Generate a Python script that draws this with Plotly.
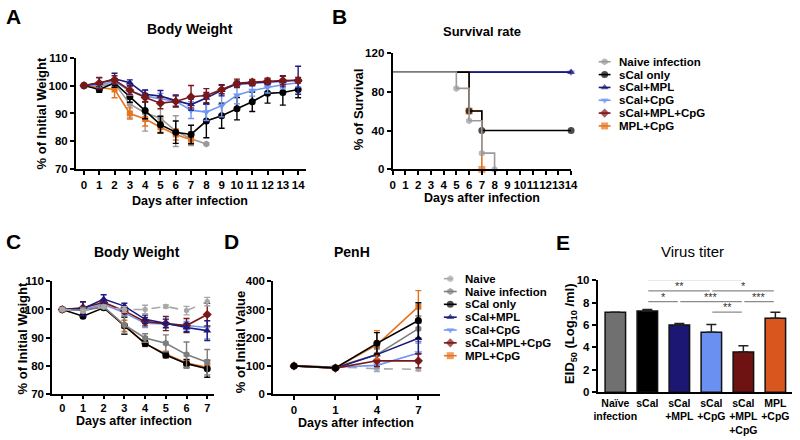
import plotly.graph_objects as go

# ---------------- DATA ----------------
groups6 = ["Naive infection", "sCal only", "sCal+MPL", "sCal+CpG", "sCal+MPL+CpG", "MPL+CpG"]
groups7 = ["Naive", "Naive infection", "sCal only", "sCal+MPL", "sCal+CpG", "sCal+MPL+CpG", "MPL+CpG"]

# Panel A: body weight (% of initial), days 0-14
days_A = list(range(15))
A_naive_inf = [100, 99.8, 100.7, 93.4, 90.2, 88.3, 83.7, 81.0, 79.1]
A_naive_inf_err = [0.5, 1, 1.5, 5, 6.5, 5, 5.5, 2.5, 0]
A_scal = [100, 98.6, 100.9, 96.0, 91.1, 86.0, 83.3, 82.5, 87.3, 89.2, 91.7, 94.2, 97.2, 97.5, 98.6]
A_scal_err = [0.5, 1, 1.5, 2, 3, 3, 4, 3.3, 6, 4.5, 4, 3.5, 3.5, 4.5, 3]
A_mpl = [100, 100.8, 102.4, 101.0, 96.9, 96.2, 94.6, 93.2, 95.5, 98.3, 100.5, 100.9, 101.3, 101.5, 101.9]
A_mpl_err = [0.5, 2, 2, 1, 1.5, 2, 2, 2, 2, 2, 1, 1, 1, 2, 5]
A_cpg = [100, 100.1, 101.5, 98.0, 96.3, 95.2, 94.4, 91.2, 90.5, 92.8, 96.5, 98.2, 99.3, 100.3, 101.0]
A_cpg_err = [0.5, 1, 1, 1.5, 2, 2, 2, 3, 3, 4, 3, 2, 2, 1.5, 1.5]
A_scal_mpl_cpg = [100, 100.9, 102.0, 98.3, 95.7, 93.7, 94.3, 96.0, 96.4, 98.6, 100.8, 101.2, 101.6, 101.8, 101.9]
A_scal_mpl_cpg_err = [0.5, 2, 1.5, 1.5, 1.5, 2, 2, 4, 2.5, 1.5, 1.5, 1, 1, 1.5, 1]
A_mpl_cpg = [100, 99.2, 98.6, 90.0, 88.0, 85.1, 82.5, 80.6]
A_mpl_cpg_err = [0.5, 1, 3, 2, 2.5, 2, 2, 1.5]

# Panel B: survival (%)
B_naive_inf_days = [0, 5, 6, 7, 8]
B_naive_inf = [100, 83.3, 50, 16.7, 0]
B_scal_days = [0, 6, 7, 14]
B_scal = [100, 60, 40, 40]
B_mpl_days = [0, 14]
B_mpl = [100, 100]
B_cpg_days = [0, 14]
B_cpg = [100, 100]
B_scal_mpl_cpg_days = [0, 14]
B_scal_mpl_cpg = [100, 100]
B_mpl_cpg_days = [0, 6, 7]
B_mpl_cpg = [100, 60, 0]

# Panel C: body weight, days 0-7
days_C = list(range(8))
C_naive = [100, 99.5, 101.0, 100.0, 100.0, 101.1, 99.6, 102.8]
C_naive_err = [0.5, 0.5, 0.5, 1, 1.5, 0.5, 1.5, 1.5]
C_naive_inf = [100, 99.7, 100.9, 94.5, 89.9, 88.0, 84.0, 81.3]
C_naive_inf_err = [0.5, 1, 0.5, 3, 1.5, 3, 4.5, 4.5]
C_scal = [100, 97.6, 100.6, 94.2, 88.0, 83.9, 80.8, 79.0]
C_scal_err = [0.5, 0.5, 0.5, 3, 1, 1, 1.5, 3]
C_mpl = [100, 100.3, 103.7, 101.2, 96.5, 95.1, 93.6, 92.5]
C_mpl_err = [0.5, 2.5, 1.5, 1, 1.5, 1.5, 1.5, 3.5]
C_cpg = [100, 100.0, 101.8, 98.8, 95.1, 94.9, 94.3, 93.6]
C_cpg_err = [0.5, 1, 1, 1, 1.5, 1.5, 1.5, 4]
C_scal_mpl_cpg = [100, 100.6, 102.5, 99.5, 95.7, 95.0, 94.3, 98.2]
C_scal_mpl_cpg_err = [0.5, 2, 1, 1, 1.5, 2.5, 2.5, 4]
C_mpl_cpg = [100, 100.0, 100.9, 94.2, 87.9, 84.2, 81.0, 79.5]
C_mpl_cpg_err = [0.5, 0.5, 0.5, 2, 1, 1, 1, 1]

# Panel D: PenH (% of initial value)
days_D = ["0", "1", "4", "7"]
D_naive = [100, 97, 90, 88]
D_naive_err = [3, 3, 10, 5]
D_naive_inf = [100, 95, 140, 232]
D_naive_inf_err = [3, 3, 20, 45]
D_scal = [100, 93, 180, 261]
D_scal_err = [3, 3, 38, 63]
D_mpl = [100, 92, 140, 198]
D_mpl_err = [3, 3, 25, 55]
D_cpg = [100, 95, 102, 146]
D_cpg_err = [3, 3, 10, 35]
D_scal_mpl_cpg = [100, 92, 118, 118]
D_scal_mpl_cpg_err = [3, 3, 20, 25]
D_mpl_cpg = [100, 93, 175, 310]
D_mpl_cpg_err = [3, 3, 50, 57]

# Panel E: virus titer
E_labels = ["Naïve<br>infection", "sCal", "sCal<br>+MPL", "sCal<br>+CpG", "sCal<br>+MPL<br>+CpG", "MPL<br>+CpG"]
E_values = [7.15, 7.25, 6.0, 5.35, 3.6, 6.6]
E_err = [0.0, 0.15, 0.15, 0.7, 0.55, 0.55]
sig_left = [1, 1, 3, 1, 2, 4, 3]
sig_right = [4, 3, 5, 2, 4, 5, 4]
sig_text = ["***", "**", "*", "*", "***", "***", "**"]

# ---------------- STYLE ----------------
W, H = 800, 440
FONT = "Liberation Sans, Arial, sans-serif"
GRAY = "#9a9a9a"
GRAY_C = "#7d7d7d"
GRAY_L = "#a8a8a8"
BLACK = "#000000"
NAVY = "#1c1a7e"
LBLUE = "#6f97f3"
DRED = "#7a1717"
ORANGE = "#e6731f"
BAR_COLORS = ["#707070", "#000000", "#1c1773", "#6a90f2", "#6e1212", "#d9561f"]
sig_levels = [10.05, 9.05, 9.05, 8.1, 8.1, 8.1, 7.15]

def px(x):
    return x / W

def py(y):
    return 1 - y / H

fig = go.Figure()

def line_trace(x, y, err, color, symbol, xa, ya, size=7, dash="solid", width=1.6):
    fig.add_trace(go.Scatter(
        x=x, y=y, mode="lines+markers", xaxis=xa, yaxis=ya, showlegend=False,
        line=dict(color=color, width=width, dash=dash),
        marker=dict(color=color, symbol=symbol, size=size, line=dict(width=0)),
        error_y=dict(type="data", array=err, color=color, thickness=1.4, width=3),
        cliponaxis=False,
    ))

# Panel A
line_trace(days_A[:len(A_naive_inf)], A_naive_inf, A_naive_inf_err, GRAY, "hexagon", "x", "y")
line_trace(days_A[:len(A_mpl_cpg)], A_mpl_cpg, A_mpl_cpg_err, ORANGE, "square", "x", "y", size=6)
line_trace(days_A, A_scal, A_scal_err, BLACK, "circle", "x", "y")
line_trace(days_A, A_cpg, A_cpg_err, LBLUE, "triangle-down", "x", "y")
line_trace(days_A, A_mpl, A_mpl_err, NAVY, "triangle-up", "x", "y")
line_trace(days_A, A_scal_mpl_cpg, A_scal_mpl_cpg_err, DRED, "diamond", "x", "y")

# Panel B (step survival curves)
def surv_trace(x, y, color, symbol, msize=7):
    sizes = [0] + [msize] * (len(x) - 1)
    fig.add_trace(go.Scatter(
        x=x, y=y, mode="lines+markers", xaxis="x2", yaxis="y2", showlegend=False,
        line=dict(color=color, width=1.6, shape="hv"),
        marker=dict(color=color, symbol=symbol, size=sizes, line=dict(width=0)),
        cliponaxis=False,
    ))

surv_trace(B_scal_mpl_cpg_days, B_scal_mpl_cpg, DRED, "diamond", msize=5)
surv_trace(B_cpg_days, B_cpg, LBLUE, "triangle-down")
surv_trace(B_mpl_days, B_mpl, NAVY, "triangle-up")
surv_trace(B_mpl_cpg_days, B_mpl_cpg, ORANGE, "square")
surv_trace(B_scal_days, B_scal, BLACK, "circle")
surv_trace(B_naive_inf_days, B_naive_inf, GRAY, "hexagon")

# Panel C
line_trace(days_C, C_mpl_cpg, C_mpl_cpg_err, ORANGE, "square", "x3", "y3", size=6)
line_trace(days_C, C_scal, C_scal_err, BLACK, "circle", "x3", "y3")
line_trace(days_C, C_cpg, C_cpg_err, LBLUE, "triangle-down", "x3", "y3")
line_trace(days_C, C_scal_mpl_cpg, C_scal_mpl_cpg_err, DRED, "diamond", "x3", "y3")
line_trace(days_C, C_mpl, C_mpl_err, NAVY, "triangle-up", "x3", "y3")
line_trace(days_C, C_naive_inf, C_naive_inf_err, GRAY_C, "hexagon", "x3", "y3")
line_trace(days_C, C_naive, C_naive_err, GRAY_L, "hexagon", "x3", "y3", size=6, dash="dash")

# Panel D
xD = list(range(len(days_D)))
line_trace(xD, D_naive, D_naive_err, GRAY_L, "hexagon", "x4", "y4", size=6, dash="dash")
line_trace(xD, D_naive_inf, D_naive_inf_err, GRAY_C, "hexagon", "x4", "y4")
line_trace(xD, D_cpg, D_cpg_err, LBLUE, "triangle-down", "x4", "y4")
line_trace(xD, D_mpl, D_mpl_err, NAVY, "triangle-up", "x4", "y4")
line_trace(xD, D_scal_mpl_cpg, D_scal_mpl_cpg_err, DRED, "diamond", "x4", "y4")
line_trace(xD, D_mpl_cpg, D_mpl_cpg_err, ORANGE, "square", "x4", "y4", size=6)
line_trace(xD, D_scal, D_scal_err, BLACK, "circle", "x4", "y4")

# Panel E
xE = list(range(len(E_labels)))
fig.add_trace(go.Bar(
    x=xE, y=E_values, xaxis="x5", yaxis="y5", width=0.64, showlegend=False,
    marker=dict(color=BAR_COLORS, line=dict(color="#111111", width=1.5)),
    error_y=dict(type="data", array=E_err, arrayminus=[0] * len(E_err), symmetric=False,
                 color="#222222", thickness=1.5, width=5),
))

shapes = []
annotations = []
for l, r, t, lev in zip(sig_left, sig_right, sig_text, sig_levels):
    shapes.append(dict(type="line", xref="x5", yref="y5", x0=l + 0.03, x1=r - 0.05,
                       y0=lev, y1=lev, line=dict(color="#8a8a8a", width=1.2)))
    annotations.append(dict(xref="x5", yref="y5", x=(l + r) / 2, y=lev, text=t,
                            showarrow=False, yanchor="bottom", yshift=-3,
                            font=dict(family=FONT, size=11, color="#333333")))

# Manual legends (on a hidden axis over the legend areas)
def legend_block(names, colors, symbols, dashes, x_line0, x_line1, x_text, y0, dy):
    for i, (n, c, s, d) in enumerate(zip(names, colors, symbols, dashes)):
        yy = y0 + i * dy
        xm = (x_line0 + x_line1) / 2
        fig.add_trace(go.Scatter(
            x=[x_line0, xm, x_line1], y=[yy, yy, yy], mode="lines+markers",
            xaxis="x6", yaxis="y6", showlegend=False,
            line=dict(color=c, width=1.6, dash=d),
            marker=dict(color=c, symbol=s, size=[0, 7, 0], line=dict(width=0)),
            cliponaxis=False,
        ))
        annotations.append(dict(xref="x6", yref="y6", x=x_text, y=yy, text=n,
                                showarrow=False, xanchor="left", yanchor="middle",
                                height=12, valign="middle",
                                font=dict(family=FONT, size=11.5, color="black", weight="bold")))

legend_block(groups6, [GRAY, BLACK, NAVY, LBLUE, DRED, ORANGE],
             ["hexagon", "circle", "triangle-up", "triangle-down", "diamond", "square"],
             ["solid"] * 6, 603, 615, 622, 57.3, 13.2)
legend_block(groups7, [GRAY_L, GRAY_C, BLACK, NAVY, LBLUE, DRED, ORANGE],
             ["hexagon", "hexagon", "circle", "triangle-up", "triangle-down", "diamond", "square"],
             ["dash"] + ["solid"] * 6, 446, 459, 465, 280.3, 13.2)

# Titles and labels as annotations (paper coords in px)
def txt(x, y, s, size=13, bold=True, angle=0, xanchor="center"):
    annotations.append(dict(xref="paper", yref="paper", x=px(x), y=py(y), text=s,
                            showarrow=False, xanchor=xanchor, yanchor="middle", textangle=angle,
                            font=dict(family=FONT, size=size, color="black",
                                      weight="bold" if bold else "normal")))

txt(10, 11, "A", 21)
txt(340, 11, "B", 21)
txt(10, 242, "C", 21)
txt(231, 242, "D", 21)
txt(567, 243, "E", 21)

txt(189, 24, "Body Weight", 14)
txt(485, 26, "Survival rate", 13)
txt(135, 253, "Body Weight", 14)
txt(353, 253, "PenH", 14)
txt(698, 252, "Virus titer", 15, bold=False)

txt(189, 200, "Days after infection", 12.5)
txt(485, 197, "Days after infection", 12.5)
txt(132, 427, "Days after infection", 12.5)
txt(357, 429, "Days after infection", 12.5)

txt(38, 110, "% of Initial Weight", 13, angle=-90)
txt(359, 106, "% of Survival", 13, angle=-90)
txt(19, 342, "% of Initial Weight", 13, angle=-90)
txt(240, 345, "% of Initial Value", 13, angle=-90)
txt(575, 337, "EID<sub>50</sub> (Log<sub>10</sub> /ml)", 13, angle=-90)

def ax(size=11.5, **kw):
    base = dict(showline=True, linecolor="black", linewidth=2, ticks="outside",
                ticklen=4, tickwidth=2, tickcolor="black", showgrid=False, zeroline=False,
                tickfont=dict(family=FONT, size=size, color="black", weight="bold"),
                fixedrange=True, tickangle=0)
    base.update(kw)
    return base

fig.update_layout(
    width=W, height=H, margin=dict(l=0, r=0, t=0, b=0),
    paper_bgcolor="white", plot_bgcolor="rgba(0,0,0,0)",
    showlegend=False,
    xaxis=ax(domain=[px(73), px(306)], range=[-0.52, 14.5], tickvals=days_A, anchor="y"),
    yaxis=ax(domain=[py(168), py(53)], range=[70, 110], tickvals=[70, 80, 90, 100, 110], anchor="x"),
    xaxis2=ax(domain=[px(394), px(575)], range=[0, 14], tickvals=list(range(15)), anchor="y2"),
    yaxis2=ax(domain=[py(168), py(48)], range=[0, 120], tickvals=[0, 40, 80, 120], anchor="x2"),
    xaxis3=ax(size=11, ticklen=3, domain=[px(49), px(213)], range=[-0.48, 7.33], tickvals=days_C, anchor="y3"),
    yaxis3=ax(domain=[py(399), py(283)], range=[70, 110], tickvals=[70, 80, 90, 100, 110], anchor="x3"),
    xaxis4=ax(domain=[px(273), px(442)], range=[-0.5, 3.52], tickvals=xD, ticktext=days_D, anchor="y4"),
    yaxis4=ax(domain=[py(399), py(283)], range=[0, 400], tickvals=[0, 100, 200, 300, 400], anchor="x4"),
    xaxis5=ax(size=10.5, domain=[px(602), px(799)], range=[-0.55, 5.52], tickvals=xE, ticktext=E_labels,
              ticks="", anchor="y5"),
    yaxis5=ax(domain=[py(397), py(282)], range=[0, 10], tickvals=[0, 2, 4, 6, 8, 10], anchor="x5"),
    xaxis6=dict(domain=[px(440), px(800)], range=[440, 800], visible=False, fixedrange=True, anchor="y6"),
    yaxis6=dict(domain=[0, 1], range=[H, 0], visible=False, fixedrange=True, anchor="x6"),
    shapes=shapes,
    annotations=annotations,
)

fig.write_html("out.html", config={"displayModeBar": False, "staticPlot": True},
               post_script="document.body.style.margin='0';document.body.style.overflow='hidden';")
